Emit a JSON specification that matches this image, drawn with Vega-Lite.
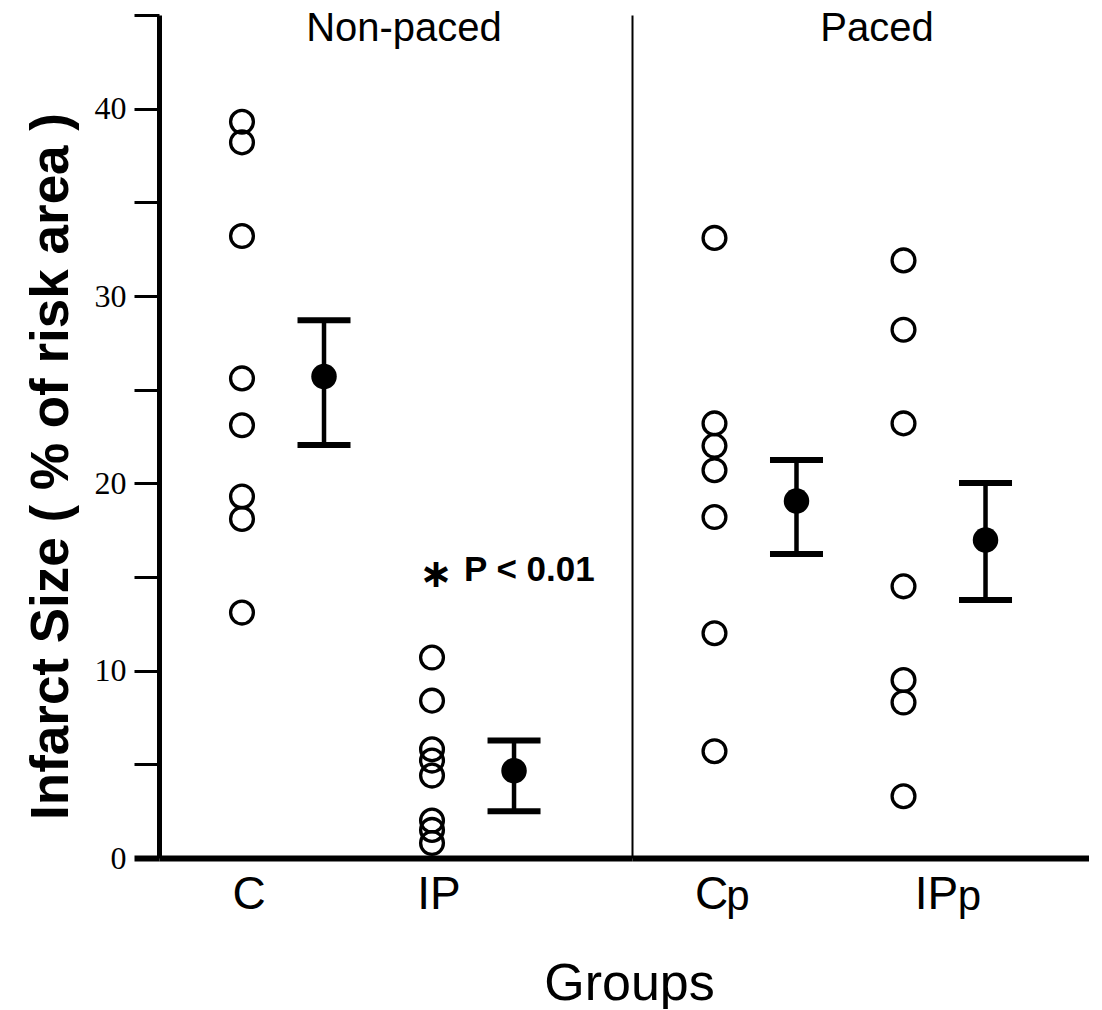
{
  "$schema": "https://vega.github.io/schema/vega-lite/v6.json",
  "autosize": {"type": "pad"},
  "padding": {"left": 25, "top": 9, "right": 0, "bottom": 0},
  "background": "white",
  "config": {"view": {"stroke": null}, "font": "Liberation Sans"},
  "datasets": {
    "individual": [
      {"pacing": "Non-paced", "group": "C", "value": 39.3},
      {"pacing": "Non-paced", "group": "C", "value": 38.2},
      {"pacing": "Non-paced", "group": "C", "value": 33.2},
      {"pacing": "Non-paced", "group": "C", "value": 25.6},
      {"pacing": "Non-paced", "group": "C", "value": 23.1},
      {"pacing": "Non-paced", "group": "C", "value": 19.3},
      {"pacing": "Non-paced", "group": "C", "value": 18.1},
      {"pacing": "Non-paced", "group": "C", "value": 13.1},
      {"pacing": "Non-paced", "group": "IP", "value": 10.7},
      {"pacing": "Non-paced", "group": "IP", "value": 8.4},
      {"pacing": "Non-paced", "group": "IP", "value": 5.8},
      {"pacing": "Non-paced", "group": "IP", "value": 5.2},
      {"pacing": "Non-paced", "group": "IP", "value": 4.4},
      {"pacing": "Non-paced", "group": "IP", "value": 2.0},
      {"pacing": "Non-paced", "group": "IP", "value": 1.5},
      {"pacing": "Non-paced", "group": "IP", "value": 0.8},
      {"pacing": "Paced", "group": "Cp", "value": 33.1},
      {"pacing": "Paced", "group": "Cp", "value": 23.2},
      {"pacing": "Paced", "group": "Cp", "value": 22.0},
      {"pacing": "Paced", "group": "Cp", "value": 20.7},
      {"pacing": "Paced", "group": "Cp", "value": 18.2},
      {"pacing": "Paced", "group": "Cp", "value": 12.0},
      {"pacing": "Paced", "group": "Cp", "value": 5.7},
      {"pacing": "Paced", "group": "IPp", "value": 31.9},
      {"pacing": "Paced", "group": "IPp", "value": 28.2},
      {"pacing": "Paced", "group": "IPp", "value": 23.2},
      {"pacing": "Paced", "group": "IPp", "value": 14.5},
      {"pacing": "Paced", "group": "IPp", "value": 9.5},
      {"pacing": "Paced", "group": "IPp", "value": 8.3},
      {"pacing": "Paced", "group": "IPp", "value": 3.3}
    ],
    "summary": [
      {"pacing": "Non-paced", "group": "C", "mean": 25.7, "lo": 22.05, "hi": 28.7},
      {"pacing": "Non-paced", "group": "IP", "mean": 4.66, "lo": 2.5, "hi": 6.27},
      {"pacing": "Paced", "group": "Cp", "mean": 19.06, "lo": 16.23, "hi": 21.25},
      {"pacing": "Paced", "group": "IPp", "mean": 16.98, "lo": 13.77, "hi": 20.02}
    ]
  },
  "bounds": "flush",
  "spacing": 0,
  "resolve": {"scale": {"x": "independent", "y": "independent"}},
  "hconcat": [
    {
      "width": 473,
      "height": 843,
      "layer": [
        {
          "data": {"name": "individual"},
          "transform": [{"filter": "datum.pacing == 'Non-paced'"}],
          "mark": {"type": "point", "shape": "circle", "filled": false, "stroke": "black", "strokeWidth": 3.3, "size": 520, "opacity": 1},
          "encoding": {
            "x": {
              "field": "group", "type": "nominal", "bandPosition": 0.25,
              "scale": {"type": "band", "domain": ["C", "IP"], "paddingInner": 0.1368, "paddingOuter": 0.313, "align": 0.353},
              "axis": {
                "title": "Groups", "titleX": 470, "titleY": 141, "titleBaseline": "alphabetic", "titleAlign": "center",
                "titleFontSize": 52, "titleFontWeight": "normal", "titleFont": "Liberation Sans", "titleColor": "black",
                "labelAngle": 0, "labelFontSize": 46, "labelFont": "Liberation Sans", "labelColor": "black",
                "labelBaseline": "alphabetic", "labelPadding": 50, "labelOffset": -34,
                "ticks": false, "tickSize": 0, "domainColor": "black", "domainWidth": 6, "grid": false
              }
            },
            "y": {
              "field": "value", "type": "quantitative",
              "scale": {"domain": [0, 45], "nice": false, "zero": false},
              "axis": {
                "values": [0, 5, 10, 15, 20, 25, 30, 35, 40, 45],
                "labelExpr": "datum.value % 10 == 0 && datum.value < 45 ? datum.label : ''",
                "labelFlush": false, "labelOverlap": false,
                "tickSize": 25,
                "tickWidth": {"condition": {"test": "datum.value == 0", "value": 6}, "value": 3},
                "tickColor": "black", "domainColor": "black", "domainWidth": 5,
                "labelFont": "Liberation Serif",
                "labelFontSize": {"condition": {"test": "datum.value % 10 != 0", "value": 1}, "value": 32},
                "labelColor": "black", "labelPadding": 8,
                "grid": false,
                "title": "Infarct Size ( % of risk area )", "titleFont": "Liberation Sans", "titleFontWeight": "bold",
                "titleFontSize": 53, "titleColor": "black", "titleAngle": -90, "titleX": -92, "titleY": 451,
                "titleAlign": "center", "titleBaseline": "alphabetic"
              }
            }
          }
        },
        {
          "data": {"name": "summary"},
          "transform": [{"filter": "datum.pacing == 'Non-paced'"}],
          "mark": {"type": "rule", "strokeWidth": 4.5, "color": "black"},
          "encoding": {
            "x": {"field": "group", "type": "nominal", "bandPosition": 0.75},
            "y": {"field": "lo", "type": "quantitative"},
            "y2": {"field": "hi"}
          }
        },
        {
          "data": {"name": "summary"},
          "transform": [{"filter": "datum.pacing == 'Non-paced'"}],
          "mark": {"type": "point", "shape": "M-1,0L1,0", "filled": false, "stroke": "black", "strokeWidth": 6, "strokeCap": "butt", "size": 2809, "opacity": 1},
          "encoding": {
            "x": {"field": "group", "type": "nominal", "bandPosition": 0.75},
            "y": {"field": "lo", "type": "quantitative"}
          }
        },
        {
          "data": {"name": "summary"},
          "transform": [{"filter": "datum.pacing == 'Non-paced'"}],
          "mark": {"type": "point", "shape": "M-1,0L1,0", "filled": false, "stroke": "black", "strokeWidth": 6, "strokeCap": "butt", "size": 2809, "opacity": 1},
          "encoding": {
            "x": {"field": "group", "type": "nominal", "bandPosition": 0.75},
            "y": {"field": "hi", "type": "quantitative"}
          }
        },
        {
          "data": {"name": "summary"},
          "transform": [{"filter": "datum.pacing == 'Non-paced'"}],
          "mark": {"type": "circle", "size": 650, "color": "black", "opacity": 1},
          "encoding": {
            "x": {"field": "group", "type": "nominal", "bandPosition": 0.75},
            "y": {"field": "mean", "type": "quantitative"}
          }
        },
        {
          "data": {"name": "summary"},
          "transform": [{"filter": "datum.group == 'IP'"}],
          "mark": {"type": "text", "text": "P < 0.01", "align": "left", "baseline": "alphabetic", "fontSize": 35, "fontWeight": "bold", "font": "Liberation Sans", "color": "black"},
          "encoding": {
            "x": {"field": "group", "type": "nominal", "bandPosition": 0.445},
            "y": {"datum": 14.8, "type": "quantitative"}
          }
        },
        {
          "data": {"name": "summary"},
          "transform": [{"filter": "datum.group == 'IP'"}],
          "mark": {"type": "text", "text": "∗", "align": "center", "baseline": "middle", "fontSize": 40, "fontWeight": "bold", "font": "DejaVu Sans", "color": "black"},
          "encoding": {
            "x": {"field": "group", "type": "nominal", "bandPosition": 0.274},
            "y": {"datum": 15.1, "type": "quantitative"}
          }
        },
        {
          "data": {"name": "summary"},
          "transform": [{"filter": "datum.group == 'IP'"}],
          "mark": {"type": "text", "text": "Non-paced", "align": "center", "baseline": "alphabetic", "fontSize": 40, "font": "Liberation Sans", "color": "black"},
          "encoding": {
            "x": {"field": "group", "type": "nominal", "bandPosition": 0.079},
            "y": {"datum": 43.6, "type": "quantitative"}
          }
        }
      ]
    },
    {
      "width": 457,
      "height": 843,
      "layer": [
        {
          "data": {"name": "individual"},
          "transform": [{"filter": "datum.pacing == 'Paced'"}],
          "mark": {"type": "point", "shape": "circle", "filled": false, "stroke": "black", "strokeWidth": 3.3, "size": 520, "opacity": 1},
          "encoding": {
            "x": {
              "field": "group", "type": "nominal", "bandPosition": 0.25,
              "scale": {"type": "band", "domain": ["Cp", "IPp"], "paddingInner": 0.1323, "paddingOuter": 0.275, "align": 0.399},
              "axis": {
                "title": null,
                "labelExpr": "replace(datum.label, 'p', '')",
                "labelAngle": 0, "labelFontSize": 46, "labelFont": "Liberation Sans", "labelColor": "black",
                "labelBaseline": "alphabetic", "labelPadding": 50,
                "labelOffset": {"condition": {"test": "datum.value == 'Cp'", "value": -44}, "value": -8},
                "ticks": false, "tickSize": 0, "domainColor": "black", "domainWidth": 6, "grid": false
              }
            },
            "y": {
              "field": "value", "type": "quantitative",
              "scale": {"domain": [0, 45], "nice": false, "zero": false},
              "axis": {"title": null, "labels": false, "ticks": false, "grid": false, "domainColor": "black", "domainWidth": 2}
            }
          }
        },
        {
          "data": {"name": "summary"},
          "transform": [{"filter": "datum.pacing == 'Paced'"}],
          "mark": {"type": "rule", "strokeWidth": 4.5, "color": "black"},
          "encoding": {
            "x": {"field": "group", "type": "nominal", "bandPosition": 0.75},
            "y": {"field": "lo", "type": "quantitative"},
            "y2": {"field": "hi"}
          }
        },
        {
          "data": {"name": "summary"},
          "transform": [{"filter": "datum.pacing == 'Paced'"}],
          "mark": {"type": "point", "shape": "M-1,0L1,0", "filled": false, "stroke": "black", "strokeWidth": 6, "strokeCap": "butt", "size": 2809, "opacity": 1},
          "encoding": {
            "x": {"field": "group", "type": "nominal", "bandPosition": 0.75},
            "y": {"field": "lo", "type": "quantitative"}
          }
        },
        {
          "data": {"name": "summary"},
          "transform": [{"filter": "datum.pacing == 'Paced'"}],
          "mark": {"type": "point", "shape": "M-1,0L1,0", "filled": false, "stroke": "black", "strokeWidth": 6, "strokeCap": "butt", "size": 2809, "opacity": 1},
          "encoding": {
            "x": {"field": "group", "type": "nominal", "bandPosition": 0.75},
            "y": {"field": "hi", "type": "quantitative"}
          }
        },
        {
          "data": {"name": "summary"},
          "transform": [{"filter": "datum.pacing == 'Paced'"}],
          "mark": {"type": "circle", "size": 650, "color": "black", "opacity": 1},
          "encoding": {
            "x": {"field": "group", "type": "nominal", "bandPosition": 0.75},
            "y": {"field": "mean", "type": "quantitative"}
          }
        },
        {
          "data": {"name": "summary"},
          "transform": [{"filter": "datum.group == 'Cp'"}],
          "mark": {"type": "text", "text": "p", "align": "center", "baseline": "alphabetic", "fontSize": 42, "font": "Liberation Sans", "color": "black"},
          "encoding": {
            "x": {"field": "group", "type": "nominal", "bandPosition": 0.393},
            "y": {"datum": -2.78, "type": "quantitative"}
          }
        },
        {
          "data": {"name": "summary"},
          "transform": [{"filter": "datum.group == 'IPp'"}],
          "mark": {"type": "text", "text": "p", "align": "center", "baseline": "alphabetic", "fontSize": 42, "font": "Liberation Sans", "color": "black"},
          "encoding": {
            "x": {"field": "group", "type": "nominal", "bandPosition": 0.652},
            "y": {"datum": -2.78, "type": "quantitative"}
          }
        },
        {
          "data": {"name": "summary"},
          "transform": [{"filter": "datum.group == 'IPp'"}],
          "mark": {"type": "text", "text": "Paced", "align": "center", "baseline": "alphabetic", "fontSize": 40, "font": "Liberation Sans", "color": "black"},
          "encoding": {
            "x": {"field": "group", "type": "nominal", "bandPosition": 0.088},
            "y": {"datum": 43.6, "type": "quantitative"}
          }
        }
      ]
    }
  ]
}
